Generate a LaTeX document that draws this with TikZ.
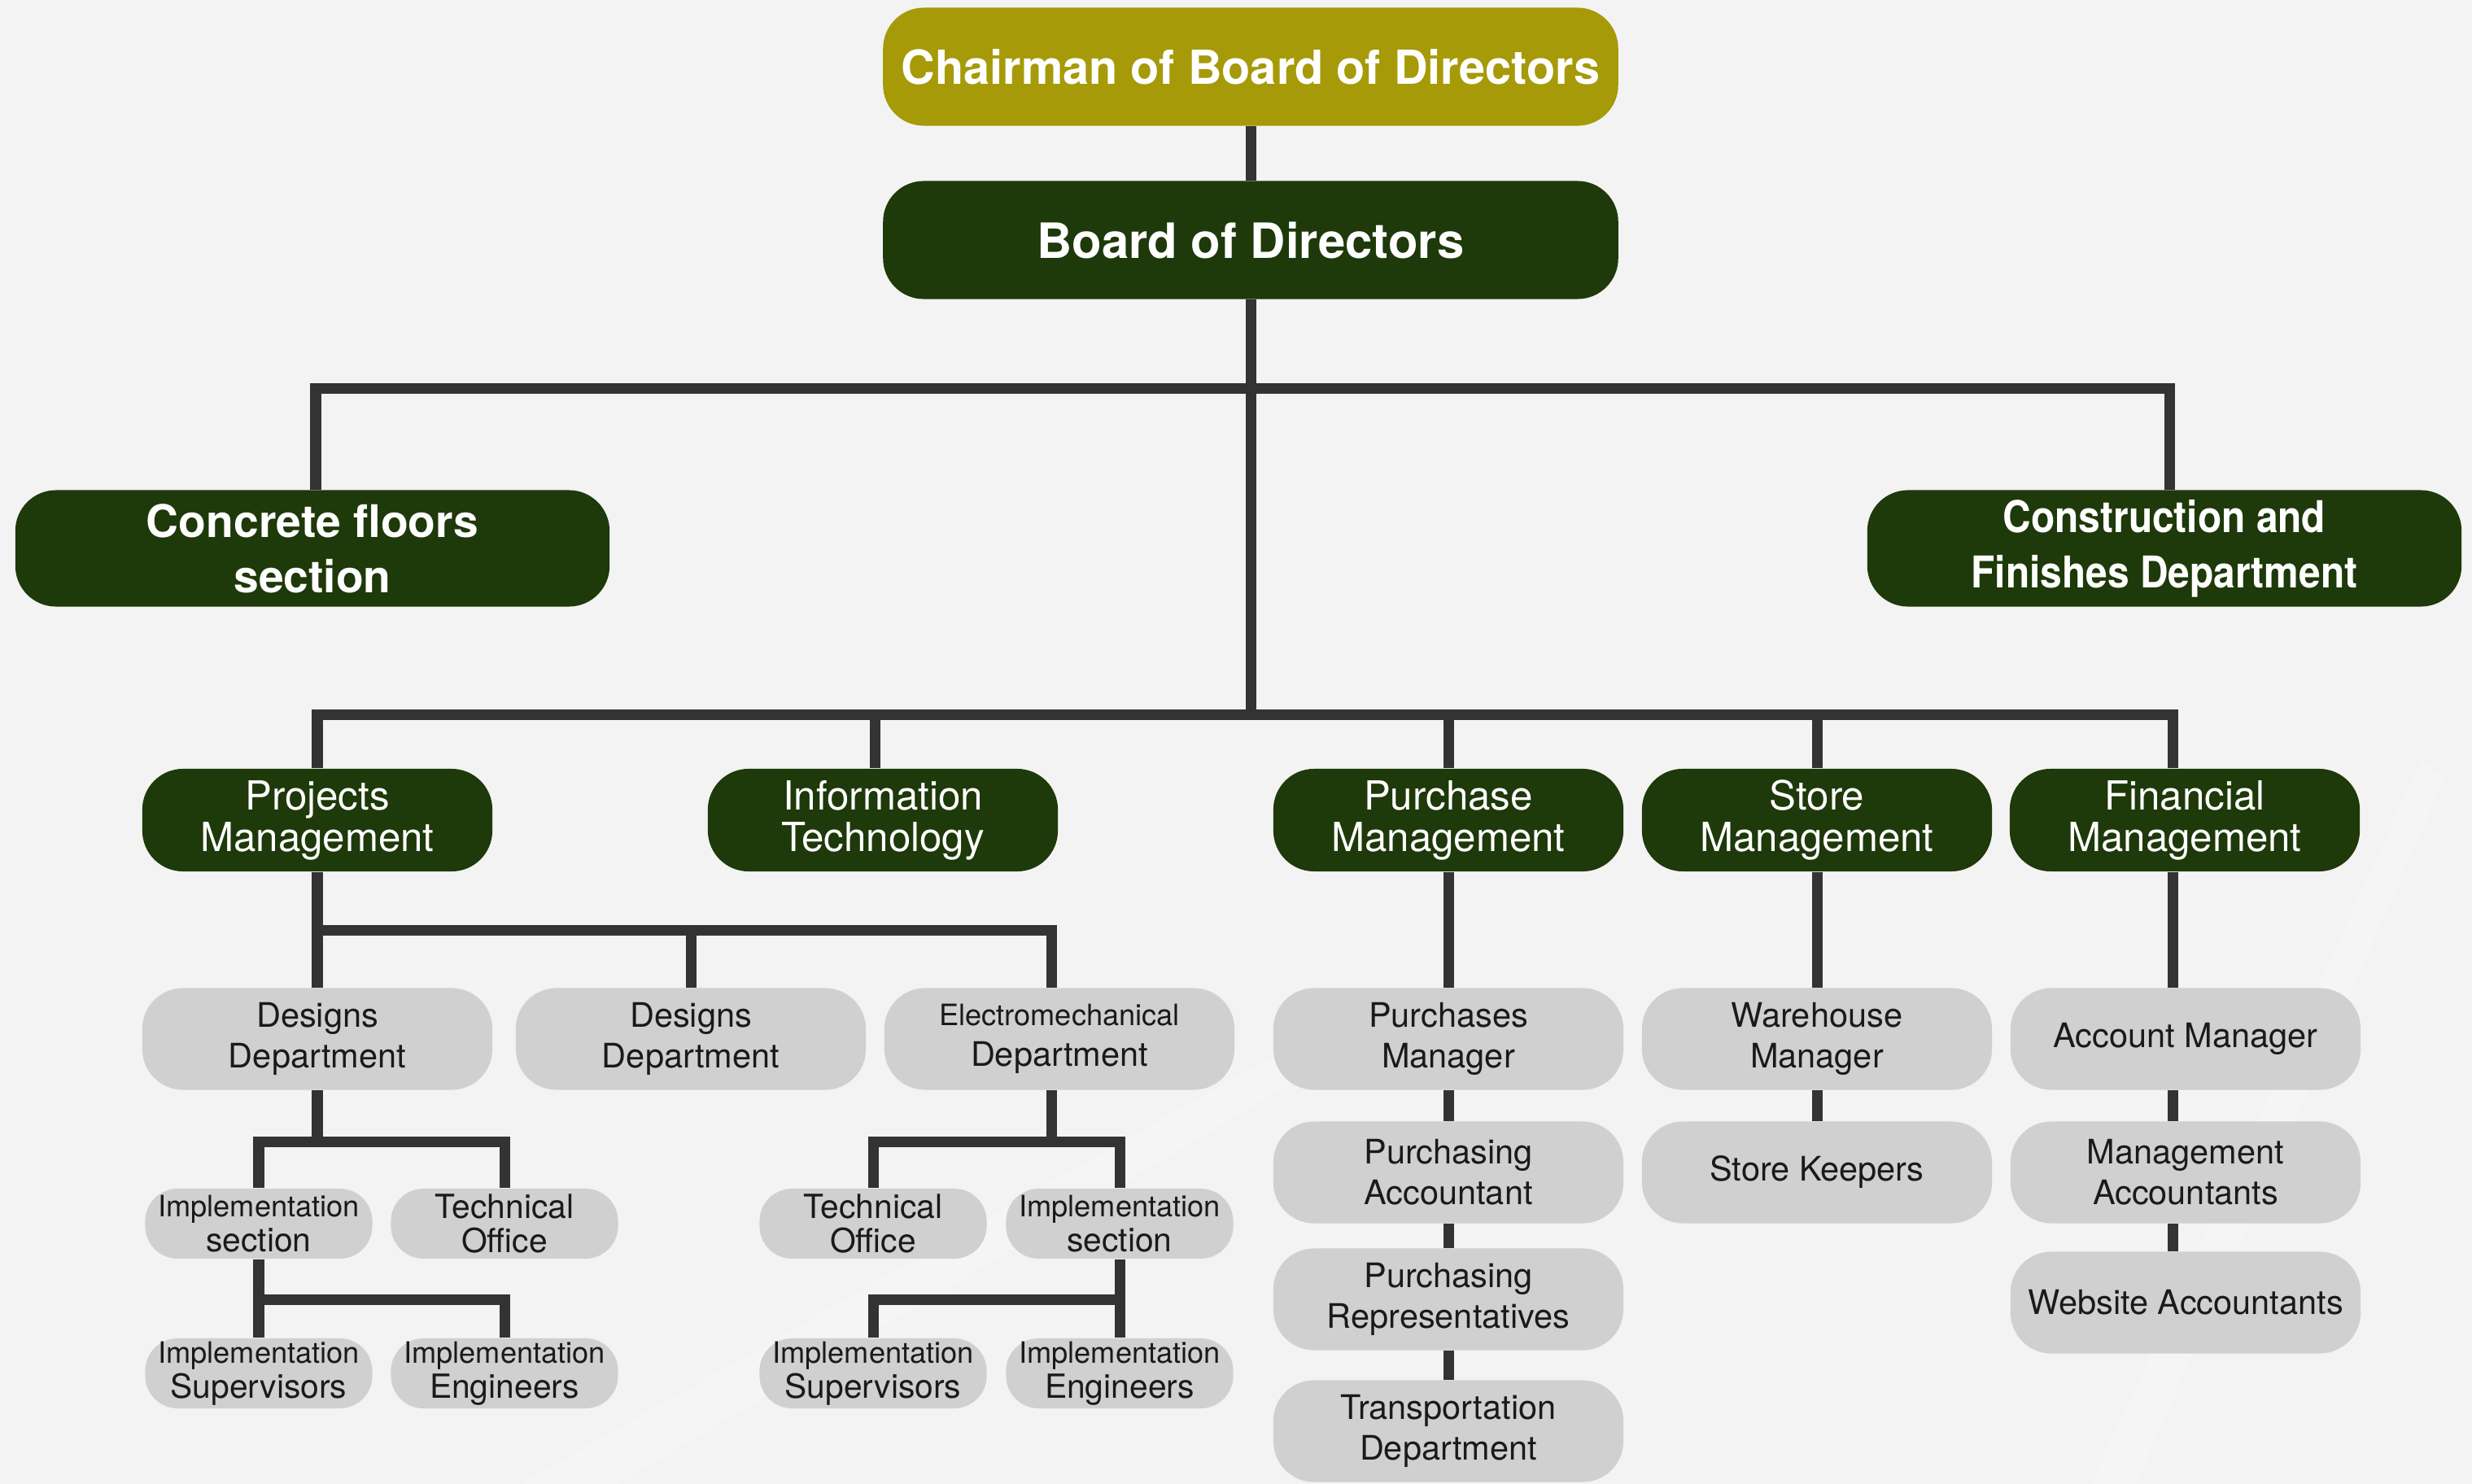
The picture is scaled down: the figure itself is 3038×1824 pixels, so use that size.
\documentclass[tikz,border=0pt]{standalone}
\usepackage{fontspec}
\setmainfont{TeX Gyre Heros}
\newfontfamily\condfont[FakeStretch=0.89]{TeX Gyre Heros}
\definecolor{olivebox}{RGB}{166,154,9}
\definecolor{dkgreen}{RGB}{30,57,10}
\definecolor{boxgray}{RGB}{208,208,208}
\definecolor{lncol}{RGB}{51,51,51}
\definecolor{bgcol}{RGB}{243,243,243}
\definecolor{txtdark}{RGB}{26,26,26}
\newcommand{\impl}{{\fontsize{10.3}{12}\selectfont Implementation}}
\newcommand{\elmech}{{\fontsize{10.3}{14.3}\selectfont Electromechanical}}
\tikzset{
  box/.style={rounded corners=0.5cm, inner sep=0pt, align=center},
  chairbox/.style={box, fill=olivebox, text=white, minimum width=9.03cm, minimum height=1.45cm,
    font=\bfseries\fontsize{16.4}{19.5}\selectfont},
  topbox/.style={box, fill=dkgreen, text=white, font=\bfseries\fontsize{16}{19.4}\selectfont},
  mgmt/.style={box, fill=dkgreen, text=white, minimum width=4.3cm, minimum height=1.26cm,
    font=\fontsize{14}{14.5}\selectfont},
  dept/.style={box, fill=boxgray, text=txtdark, minimum width=4.3cm, minimum height=1.25cm,
    font=\fontsize{11.8}{14.3}\selectfont},
  small/.style={box, rounded corners=0.4cm, fill=boxgray, text=txtdark, minimum width=2.79cm,
    minimum height=0.86cm, font=\fontsize{11.6}{12.2}\selectfont},
  ln/.style={draw=lncol, line width=0.13cm},
}
\begin{document}
\begin{tikzpicture}[x=0.01cm, y=-0.01cm]
\fill[bgcol] (0,0) rectangle (3038,1824);
\useasboundingbox (0,0) rectangle (3038,1824);
% faint background streaks
\fill[white, opacity=0.18] (640,1824) -- (1560,1300) -- (1640,1300) -- (760,1824) -- cycle;
\fill[white, opacity=0.18] (2570,1824) -- (2975,935) -- (3005,955) -- (2625,1824) -- cycle;

% level 0-1
\node[chairbox] (chair) at (1537,82) {Chairman of Board of Directors};
\node[topbox, minimum width=9.03cm, minimum height=1.45cm, font=\bfseries\fontsize{17}{19.5}\selectfont] (board) at (1537,295) {Board of Directors};
\node[topbox, minimum width=7.3cm, minimum height=1.43cm, font=\bfseries\fontsize{15.7}{19.4}\selectfont] (conc) at (384,674) {Concrete floors\\section};
\node[topbox, minimum width=7.3cm, minimum height=1.43cm, font=\condfont\bfseries\fontsize{15.3}{19.4}\selectfont] (cons) at (2660,674) {Construction and\\Finishes Department};

% level 2
\node[mgmt] (pm) at (390,1008) {Projects\\Management};
\node[mgmt] (it) at (1085,1008) {Information\\Technology};
\node[mgmt] (pu) at (1780,1008) {Purchase\\Management};
\node[mgmt] (st) at (2233,1008) {Store\\Management};
\node[mgmt] (fi) at (2685,1008) {Financial\\Management};

% level 3
\node[dept] (d1) at (390,1277) {Designs\\Department};
\node[dept] (d2) at (849,1277) {Designs\\Department};
\node[dept] (em) at (1302,1277) {\elmech\\Department};
\node[dept] (pmg) at (1780,1277) {Purchases\\Manager};
\node[dept] (wh) at (2233,1277) {Warehouse\\Manager};
\node[dept] (am) at (2686,1277) {Account Manager};

\node[dept] (pa) at (1780,1441) {Purchasing\\Accountant};
\node[dept] (pr) at (1780,1597) {Purchasing\\Representatives};
\node[dept] (td) at (1780,1759) {Transportation\\Department};
\node[dept] (sk) at (2233,1441) {Store Keepers};
\node[dept] (ma) at (2686,1441) {Management\\Accountants};
\node[dept] (wa) at (2686,1601) {Website Accountants};

% level 4-5
\node[small] (is1) at (318,1504) {\impl\\section};
\node[small] (to1) at (620,1504) {Technical\\Office};
\node[small] (to2) at (1073,1504) {Technical\\Office};
\node[small] (is2) at (1376,1504) {\impl\\section};
\node[small] (sv1) at (318,1688) {\impl\\Supervisors};
\node[small] (en1) at (620,1688) {\impl\\Engineers};
\node[small] (sv2) at (1073,1688) {\impl\\Supervisors};
\node[small] (en2) at (1376,1688) {\impl\\Engineers};

% junction coordinates
\coordinate (ta) at (388,477);
\coordinate (tb) at (2666,477);
\coordinate (j2) at (1537,878);
\coordinate (itx) at (1075,878);
\coordinate (fx) at (2670,878);
\coordinate (j3) at (390,1143);
\coordinate (emx) at (1292,1143);
\coordinate (j4) at (390,1403);
\coordinate (j6) at (1292,1403);
\coordinate (j5) at (318,1597);
\coordinate (j7) at (1376,1597);

% connectors
\draw[ln] (chair) -- (board);
\draw[ln] (board.south) -- (j2);
\draw[ln] (ta |- conc.north) -- (ta) -- (tb) -- (tb |- cons.north);
\draw[ln] (pm.north) |- (fx) -- (fx |- fi.north);
\draw[ln] (itx) -- (itx |- it.north);
\draw[ln] (pu.north) -- (pu.north |- j2);
\draw[ln] (st.north) -- (st.north |- j2);

\draw[ln] (pm.south) -- (d1.north);
\draw[ln] (d2.north) |- (j3);
\draw[ln] (j3) -- (emx) -- (emx |- em.north);

\draw[ln] (d1.south) -- (j4);
\draw[ln] (is1.north) |- (j4);
\draw[ln] (to1.north) |- (j4);
\draw[ln] (is1.south) -- (sv1.north);
\draw[ln] (en1.north) |- (j5);

\draw[ln] (j6 |- em.south) -- (j6);
\draw[ln] (to2.north) |- (j6);
\draw[ln] (is2.north) |- (j6);
\draw[ln] (is2.south) -- (en2.north);
\draw[ln] (sv2.north) |- (j7);

\draw[ln] (pu.south) -- (pmg.north);
\draw[ln] (pmg.south) -- (pa.north);
\draw[ln] (pa.south) -- (pr.north);
\draw[ln] (pr.south) -- (td.north);

\draw[ln] (st.south) -- (wh.north);
\draw[ln] (wh.south) -- (sk.north);

\draw[ln] (fx |- fi.south) -- (fx |- am.north);
\draw[ln] (fx |- am.south) -- (fx |- ma.north);
\draw[ln] (fx |- ma.south) -- (fx |- wa.north);
\end{tikzpicture}
\end{document}
